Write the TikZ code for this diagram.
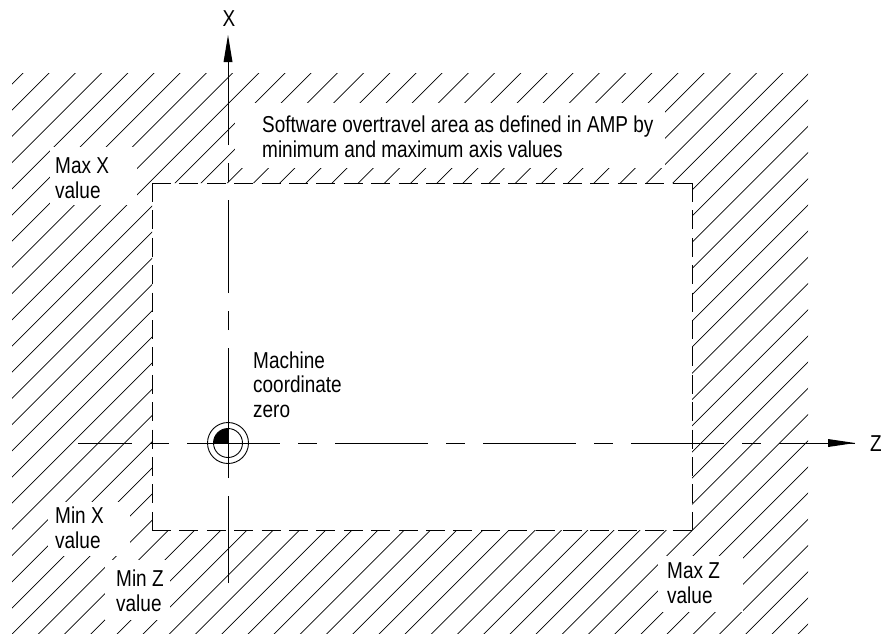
\documentclass[tikz,border=0pt]{standalone}
\usepackage{fontspec}
\setmainfont{Liberation Sans}[FakeStretch=0.825]
\usetikzlibrary{arrows.meta}
\begin{document}
\begin{tikzpicture}[x=1pt,y=-1pt,
  hatch/.style={line width=0.7pt},
  axisline/.style={line width=0.9pt,dash pattern=on 93pt off 18pt on 19pt off 18pt},
  rectside/.style={line width=0.9pt,dash pattern=on 18.9pt off 8.5pt},
  lbl/.style={font=\fontsize{23}{24.5}\selectfont,align=left,anchor=base west,inner sep=0pt},
  mask/.style={fill=white,draw=none}]
\useasboundingbox (0,0) rectangle (891,633);
% hatching
\begin{scope}[even odd rule]
  \clip (12,73) rectangle (808,640) (152,183) rectangle (692,530);
  \foreach \k in {0,...,55}{
    \pgfmathsetmacro{\c}{96+26.2*\k}
    \draw[hatch] (\c-700,700) -- (\c,0);
  }
\end{scope}
% masks behind texts
\fill[mask] (235,103) rectangle (665,168);
\fill[mask] (50,147) rectangle (137,205);
\fill[mask] (48,502) rectangle (130,556);
\fill[mask] (105,560) rectangle (170,620);
\fill[mask] (658,556) rectangle (743,612);
% dashed rectangle
\coordinate (tl) at (152,183);
\coordinate (tr) at (692,183);
\coordinate (br) at (692,530);
\coordinate (bl) at (152,530);
\draw[rectside] (tl) -- (tr);
\draw[rectside] (tl) -- (bl);
\draw[rectside] (bl) -- (br);
\draw[rectside] (tr) -- (br);
% axes
\coordinate (o) at (228,443);
\coordinate (xs) at (228,583);
\coordinate (xe) at (228,35);
\coordinate (zs) at (78,443);
\coordinate (ze) at (855,443);
\draw[axisline,dash phase=39pt] (zs) -- (ze);
\draw[axisline,dash phase=6pt] (xs) -- (xe);
\fill (228,35) -- (232.5,62) -- (223.5,62) -- cycle;
\fill (855,443) -- (828,447) -- (828,439) -- cycle;
\node[lbl,anchor=base] (X) at (229,26) {X};
\node[lbl,anchor=base] (Z) at (876,451) {Z};
% origin symbol
\fill (o) -- ++(-14.5,0) arc[start angle=180,end angle=270,radius=14.5] -- cycle;
\draw[line width=0.9pt] (o) circle[radius=14.5];
\draw[line width=0.9pt] (o) circle[radius=20.5];
\draw[line width=0.9pt] (228,420) -- (228,466);
\draw[line width=0.9pt] (205,443) -- (251,443);
% labels (base anchor = baseline of the last line)
\node[lbl] (sw) at (262,157) {Software overtravel area as defined in AMP by\\minimum and maximum axis values};
\node[lbl] (maxx) at (55,198) {Max X\\value};
\node[lbl] (minx) at (55,548) {Min X\\value};
\node[lbl] (minz) at (116,611) {Min Z\\value};
\node[lbl] (maxz) at (667,603) {Max Z\\value};
\node[lbl] (mcz) at (253,417) {Machine\\coordinate\\zero};
\end{tikzpicture}
\end{document}
